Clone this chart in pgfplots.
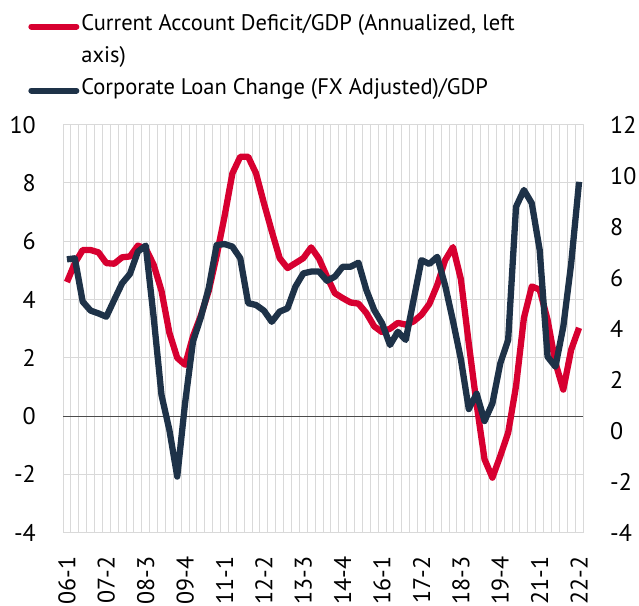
\documentclass[border=0pt]{standalone}
\usepackage{fontspec}
\setmainfont{PT Sans}
\usepackage{pgfplots}
\pgfplotsset{compat=1.18}
\usepackage{pgfplotstable}

\definecolor{cared}{RGB}{215,0,48}
\definecolor{loanblue}{RGB}{30,50,72}
\definecolor{gridgray}{RGB}{217,217,217}

% quarterly, 06-1 ... 22-2 (index 0..65)
\pgfplotstableread{
q ca loan
0 4.60 6.72
1 5.25 6.76
2 5.70 5.06
3 5.70 4.71
4 5.62 4.60
5 5.25 4.47
6 5.23 5.13
7 5.45 5.78
8 5.48 6.15
9 5.85 7.02
10 5.75 7.26
11 5.20 4.47
12 4.30 1.40
13 2.86 0.03
14 2.00 -1.80
15 1.76 1.10
16 2.74 3.50
17 3.45 4.45
18 4.30 5.60
19 5.50 7.28
20 6.85 7.32
21 8.33 7.22
22 8.90 6.76
23 8.90 5.00
24 8.33 4.93
25 7.31 4.71
26 6.34 4.27
27 5.42 4.67
28 5.08 4.80
29 5.25 5.65
30 5.42 6.17
31 5.79 6.24
32 5.40 6.24
33 4.79 5.88
34 4.22 6.04
35 4.05 6.43
36 3.90 6.43
37 3.86 6.59
38 3.54 5.52
39 3.08 4.73
40 2.88 4.21
41 3.00 3.36
42 3.20 3.88
43 3.14 3.56
44 3.25 5.13
45 3.48 6.69
46 3.85 6.54
47 4.50 6.82
48 5.35 5.70
49 5.80 4.30
50 4.70 2.80
51 2.50 0.85
52 0.40 1.45
53 -1.48 0.38
54 -2.11 1.07
55 -1.37 2.64
56 -0.57 3.56
57 1.03 8.78
58 3.37 9.44
59 4.45 8.92
60 4.34 7.09
61 3.31 2.90
62 1.83 2.51
63 0.91 4.08
64 2.28 6.56
65 3.03 9.76
}\datatable

\begin{document}
\begin{tikzpicture}[font=\fontsize{24}{30}\selectfont]
\path[use as bounding box] (0pt,0pt) rectangle (639pt,605pt);

\pgfplotsset{
  every axis/.append style={
    scale only axis, width=520pt, height=408pt,
    at={(63pt,72.3pt)}, anchor=south west,
    xmin=-0.5, xmax=65.5,
    tick style={draw=none},
    /pgf/number format/assume math mode=true,
    line join=round,
  },
}

\begin{axis}[
  ymin=-4, ymax=10, ytick={-4,-2,...,10},
  xtick={0,5,...,65},
  xticklabels={06-1,07-2,08-3,09-4,11-1,12-2,13-3,14-4,16-1,17-2,18-3,19-4,21-1,22-2},
  xticklabel style={rotate=90, anchor=east, inner sep=0pt},
  xticklabel shift=24pt,
  yticklabel style={anchor=east, inner sep=0pt},
  yticklabel shift=27pt,
  minor xtick={-0.5,0.5,...,65.5},
  xminorgrids=true, ymajorgrids=true,
  grid style={gridgray, line width=1pt},
  minor grid style={gridgray, line width=1pt},
  axis line style={gridgray, line width=1pt},
  extra y ticks={0}, extra y tick labels={},
  extra y tick style={grid style={black!70, line width=0.8pt}},
]
\addplot[cared, line width=6.3pt] table[x=q, y=ca] {\datatable};
\end{axis}

\begin{axis}[
  ymin=-4, ymax=12, ytick={-4,-2,...,12},
  axis y line*=right, axis x line=none,
  yticklabel style={anchor=west, inner sep=0pt},
  yticklabel shift=27pt,
  axis line style={draw=none},
  legend cell align=left,
  legend style={at={(-0.067,1.28)}, anchor=north west, draw=none, fill=none,
    row sep=0pt, inner sep=0pt,
    nodes={inner sep=0pt, text height=20pt, text depth=12pt},
    font=\fontsize{22.5}{30}\selectfont},
  legend image code/.code={\draw[#1, line width=6pt, line cap=round] (0pt,0pt) -- (45pt,0pt);},
]
\addlegendimage{cared}
\addlegendentry{\hspace{2pt}Current Account Deficit/GDP (Annualized, left}
\addlegendimage{empty legend}
\addlegendentry{\hspace{2pt}axis)}
\addplot[loanblue, line width=6.3pt] table[x=q, y=loan] {\datatable};
\addlegendentry{\hspace{2pt}Corporate Loan Change (FX Adjusted)/GDP}
\end{axis}
\end{tikzpicture}
\end{document}
